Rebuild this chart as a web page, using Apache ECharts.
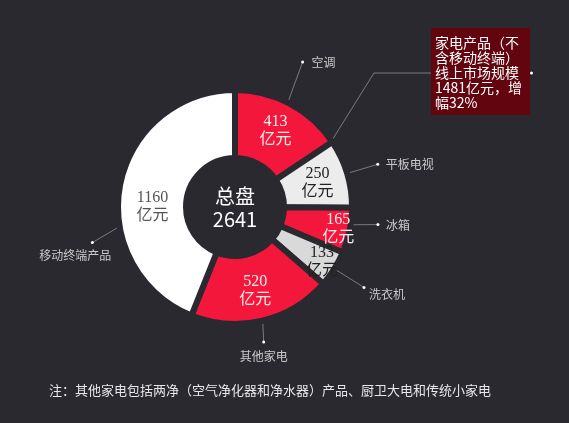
<!DOCTYPE html>
<html><head><meta charset="utf-8">
<script src="https://cdn.jsdelivr.net/npm/echarts@6/dist/echarts.min.js"></script>
<style>html,body{margin:0;padding:0;background:#2a2930;}#chart{width:569px;height:423px;}</style>
</head><body><div id="chart"></div>
<script>
// ---- data ----
const categories = ['空调', '平板电视', '冰箱', '洗衣机', '其他家电', '移动终端产品'];
const values = [413, 250, 165, 133, 520, 1160];
const valueUnit = '亿元';
const centerTitle = '总盘';
const totalValue = 2641;
const calloutLines = ['家电产品（不', '含移动终端）', '线上市场规模', '1481亿元，增', '幅32%'];
const footnote = '注：其他家电包括两净（空气净化器和净水器）产品、厨卫大电和传统小家电';

// ---- styles ----
const BG = '#2a2930';
const RED = '#f3173b';
const sliceColors = [RED, '#ececec', RED, '#d9d9d9', RED, '#ffffff'];
const valueLabelColors = ['#ffecef', '#222222', '#ffecef', '#222222', '#ffecef', '#555555'];
const CX = 235, CY = 207, R_IN = 49, R_OUT = 117, GAP = 6;
const R_VIS = R_OUT - GAP / 2;
const leaderLen = [46, 35, 30, 38, 24, 33];
const leaderAngles = {0: [27, 25], 2: [99, 97], 4: [166, 168], 5: [261, 256]};
const nameOffsets = [[9, 0, 'left'], [8, 0, 'left'], [8, 1, 'left'], [5, 7, 'left'], [0, 14, 'center'], [19, 13, 'right']];
const valueOffsets = {2: [19, 4], 3: [14, 9], 5: [2, 16]};

const sum = values.reduce((a, b) => a + b, 0);
const midAngles = [];
const endAngles = [];
let acc = 0;
values.forEach(v => { midAngles.push((acc + v / 2) / sum * 360); acc += v; endAngles.push(acc / sum * 360); });
function pt(a, r) { const t = a * Math.PI / 180; return [CX + r * Math.sin(t), CY - r * Math.cos(t)]; }
function leaderPoints(i) {
  const ang = leaderAngles[i] || [midAngles[i], midAngles[i]];
  return [pt(ang[0], R_VIS), pt(ang[1], R_VIS + leaderLen[i])];
}

const baseData = categories.map((n, i) => ({name: n, value: values[i]}));
const ghost = {color: 'rgba(0,0,0,0)', borderWidth: 0};

const chart = echarts.init(document.getElementById('chart'));
chart.setOption({
  backgroundColor: BG,
  animation: false,
  series: [
    {
      type: 'pie', center: [CX, CY], radius: [R_IN, R_OUT], avoidLabelOverlap: false,
      emphasis: {disabled: true}, silent: true,
      itemStyle: {borderColor: BG, borderWidth: GAP},
      data: categories.map((n, i) => ({
        name: n, value: values[i],
        itemStyle: {color: sliceColors[i]},
        label: {color: valueLabelColors[i]}
      })),
      label: {
        position: 'inside',
        formatter: p => p.value + '\n' + valueUnit,
        fontFamily: '"Liberation Serif", "Noto Sans CJK SC"',
        fontSize: 16, lineHeight: 18, align: 'center'
      },
      labelLine: {show: false},
      labelLayout: p => { const o = valueOffsets[p.dataIndex]; return o ? {dx: o[0], dy: o[1]} : {}; }
    },
    {
      type: 'pie', center: [CX, CY], radius: [R_IN, R_OUT], avoidLabelOverlap: false,
      emphasis: {disabled: true}, silent: true, z: 1,
      itemStyle: ghost, data: baseData,
      label: {
        position: 'outside', formatter: '{dot| }',
        rich: {dot: {width: 3, height: 3, borderRadius: 1.5, backgroundColor: '#ffffff', fontSize: 1}}
      },
      labelLine: {show: true, length: 20, length2: 0, lineStyle: {color: '#7a7a7a', width: 1}},
      labelLayout: p => {
        const pts = leaderPoints(p.dataIndex);
        return {x: pts[1][0], y: pts[1][1], align: 'center', verticalAlign: 'middle', labelLinePoints: pts};
      }
    },
    {
      type: 'pie', center: [CX, CY], radius: [R_IN, R_OUT], avoidLabelOverlap: false,
      emphasis: {disabled: true}, silent: true,
      itemStyle: ghost, data: baseData,
      label: {
        position: 'outside', formatter: '{b}', color: '#c9c9c9', fontSize: 12,
        fontFamily: '"Noto Sans CJK SC"'
      },
      labelLine: {show: false},
      labelLayout: p => {
        const i = p.dataIndex;
        const d = leaderPoints(i)[1];
        const o = nameOffsets[i];
        return {x: d[0] + o[0], y: d[1] + o[1], align: o[2], verticalAlign: 'middle'};
      }
    }
  ],
  graphic: [
    {type: 'polyline', z: 0, shape: {points: [[431, 73], [374, 73], pt(endAngles[0], R_VIS)]},
      style: {stroke: '#7a7a7a', lineWidth: 1, fill: null}},
    {type: 'rect', shape: {x: 431, y: 28, width: 99, height: 87}, style: {fill: '#62050f'}},
    {type: 'text', x: 435, y: 35, style: {text: calloutLines.join('\n'), fill: '#ffffff',
      fontSize: 14, fontFamily: '"Noto Sans CJK SC"', lineHeight: 15}},
    {type: 'circle', shape: {cx: 531.5, cy: 73, r: 1.5}, style: {fill: '#ffffff'}},
    {type: 'text', x: CX, y: 208, style: {text: centerTitle + '\n' + totalValue, fill: '#ffffff',
      align: 'center', verticalAlign: 'middle', fontSize: 20, lineHeight: 23, fontFamily: '"Noto Sans CJK SC"'}},
    {type: 'text', x: 49, y: 390, style: {text: footnote, fill: '#e8e8e8', verticalAlign: 'middle',
      fontSize: 13, fontFamily: '"Noto Sans CJK SC"'}}
  ]
});
</script></body></html>
